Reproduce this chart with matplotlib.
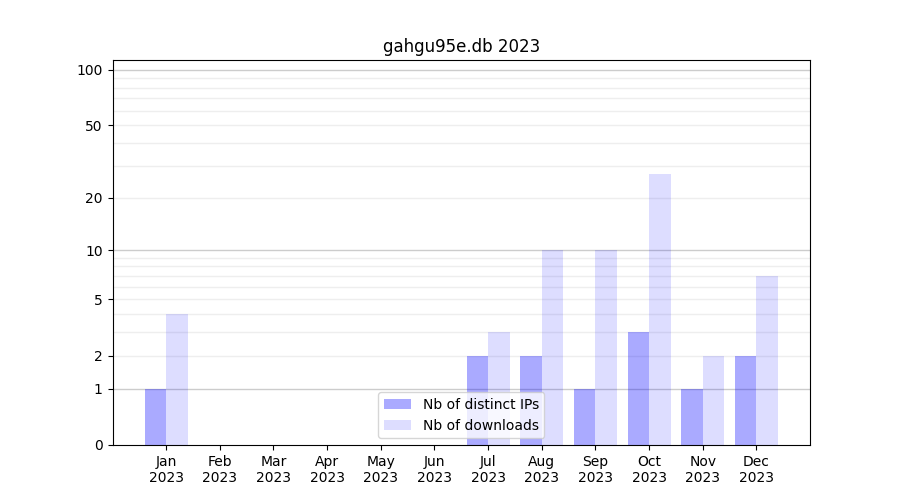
import numpy as np
import matplotlib
matplotlib.use("Agg")
import matplotlib.pyplot as plt
from matplotlib.ticker import FixedLocator, FixedFormatter

months = ["Jan\n2023", "Feb\n2023", "Mar\n2023", "Apr\n2023", "May\n2023", "Jun\n2023",
          "Jul\n2023", "Aug\n2023", "Sep\n2023", "Oct\n2023", "Nov\n2023", "Dec\n2023"]
distinct_ips = [1, 0, 0, 0, 0, 0, 2, 2, 1, 3, 1, 2]
downloads = [4, 0, 0, 0, 0, 0, 3, 10, 10, 27, 2, 7]
yticks = [0, 1, 2, 5, 10, 20, 50, 100]

fig, ax = plt.subplots(figsize=(9, 5), dpi=100)
x = np.arange(len(months))
w = 0.4
ax.set_yscale('function', functions=(lambda v: np.log10(1 + np.maximum(v, 0)),
                                     lambda v: 10 ** v - 1))
ax.bar(x - w / 2, distinct_ips, width=w, color='blue', alpha=1/3, label='Nb of distinct IPs', zorder=2)
ax.bar(x + w / 2, downloads, width=w, color='blue', alpha=0.135, label='Nb of downloads', zorder=2)

ax.set_ylim(0, 113)
ax.set_xlim(-1, 12)
ax.yaxis.set_major_locator(FixedLocator(yticks))
ax.yaxis.set_major_formatter(FixedFormatter([str(t) for t in yticks]))
minor = [v for v in list(range(2, 10)) + list(range(20, 100, 10))]
ax.yaxis.set_minor_locator(FixedLocator(minor))
ax.tick_params(axis='y', which='minor', length=0)
for v in [1, 10, 100]:
    ax.axhline(v, color='#cccccc', lw=1, zorder=1)
for v in minor:
    ax.axhline(v, color='#eeeeee', lw=1, zorder=1)
ax.set_xticks(x)
ax.set_xticklabels(months)
ax.set_title('gahgu95e.db 2023')
ax.legend(loc='lower center')
fig.savefig('out.png')
